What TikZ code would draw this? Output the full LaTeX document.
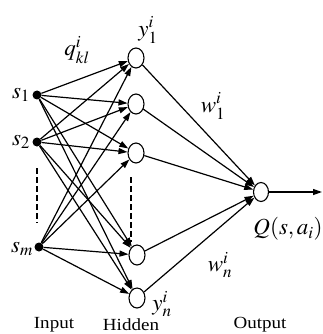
\documentclass[tikz,border=0pt]{standalone}
\usepackage{mathptmx}
\usepackage{fontspec}
\setmainfont{Liberation Serif}
\newfontfamily\labfont[FakeStretch=1.12]{Liberation Serif}
\usetikzlibrary{arrows.meta,shapes.geometric}
\begin{document}
\begin{tikzpicture}[x=1pt,y=-1pt,
  every node/.style={inner sep=0pt},
  inp/.style={circle,fill=black,minimum size=9pt},
  hid/.style={ellipse,draw,line width=1.1pt,minimum width=16pt,minimum height=20pt,fill=white},
  outn/.style={ellipse,draw,line width=1.1pt,minimum width=15pt,minimum height=19pt,fill=white},
  conn/.style={line width=1.2pt,-{Triangle[length=9pt,width=6pt]}},
  dashv/.style={line width=1.4pt,dash pattern=on 6pt off 3pt},
  mlab/.style={font=\fontsize{23}{25}\selectfont},
  tlab/.style={font=\labfont\fontsize{17}{19}\selectfont}]
\useasboundingbox (0,0) rectangle (323,334);
% input nodes
\node[inp] (s1) at (37,95) {};
\node[inp] (s2) at (37,142) {};
\node[inp] (sm) at (39,247) {};
% hidden nodes
\node[hid] (h1) at (136,58) {};
\node[hid] (h2) at (136,104) {};
\node[hid] (h3) at (136,153) {};
\node[hid] (h4) at (137,255) {};
\node[hid] (h5) at (137,298) {};
% output node
\node[outn] (o) at (261,192) {};
\coordinate (oend) at (322,192);
% connectors input -> hidden
\foreach \s in {s1,s2,sm}{
  \foreach \h in {h1,h2,h3,h4,h5}{
    \draw[conn] (\s) -- (\h);
  }
}
% hidden -> output
\foreach \h in {h1,h2,h3,h4,h5}{
  \draw[conn] (\h) -- (o);
}
\draw[conn] (o) -- (oend);
% dashed lines
\coordinate (da) at (37,168);
\coordinate (db) at (37,223);
\coordinate (dc) at (131,177);
\coordinate (dd) at (131,242);
\draw[dashv] (da) -- (db);
\draw[dashv] (dc) -- (dd);
% labels
\node[mlab] (ls1) at (21,95) {$s_1$};
\node[mlab] (ls2) at (21,142) {$s_2$};
\node[mlab] (lsm) at (22,249) {$s_m$};
\node[mlab] (lq) at (77,50) {$q_{kl}^{i}$};
\node[mlab] (ly1) at (148,30) {$y_1^{i}$};
\node[mlab] (lw1) at (213,106) {$w_1^{i}$};
\node[mlab] (lwn) at (220,265) {$w_n^{i}$};
\node[mlab] (lyn) at (162,304) {$y_n^{i}$};
\node[mlab] (lQ) at (288,229) {$Q(s,a_i)$};
\node[tlab] (tin) at (54,325) {Input};
\node[tlab] (thid) at (131,325) {Hidden};
\node[tlab] (tout) at (260,325) {Output};
\end{tikzpicture}
\end{document}
